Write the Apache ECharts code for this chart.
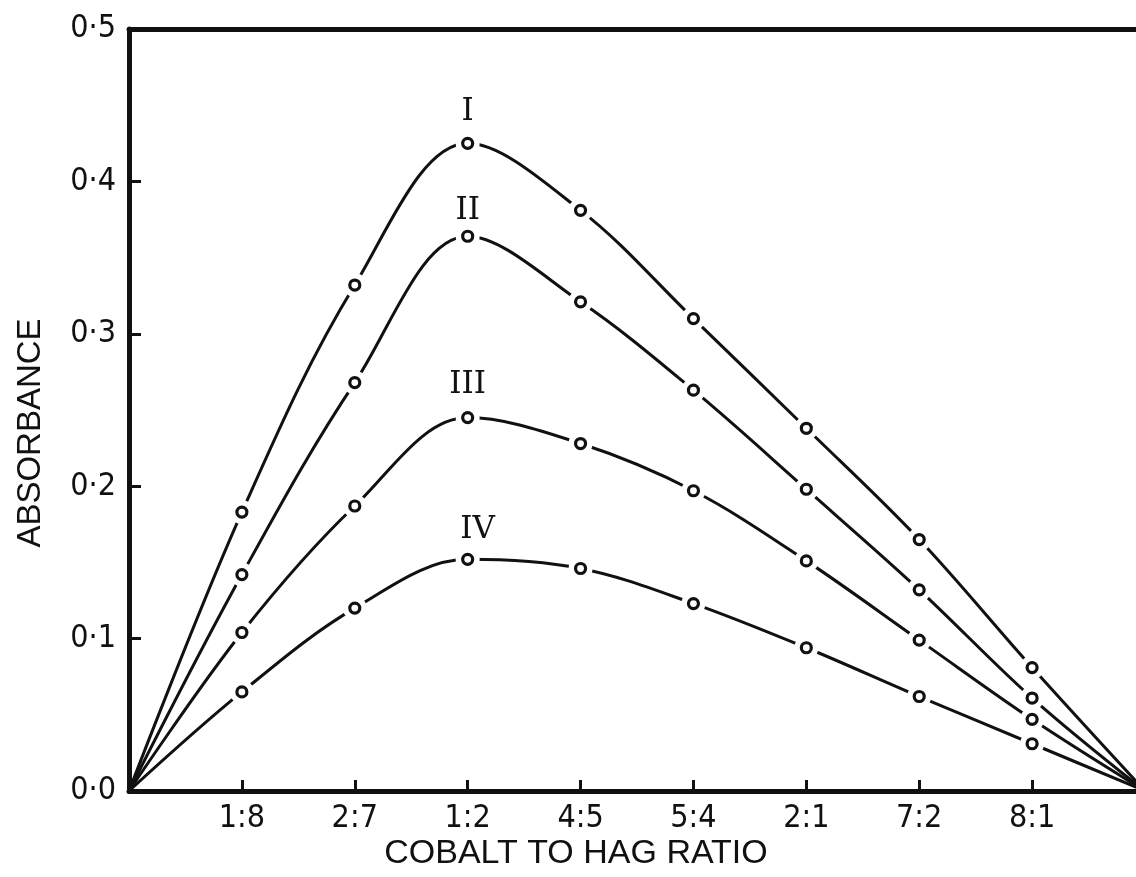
<!DOCTYPE html>
<html><head><meta charset="utf-8">
<script src="https://cdn.jsdelivr.net/npm/echarts@6/dist/echarts.min.js"></script>
<style>html,body{margin:0;padding:0;background:#fff}#c{width:1136px;height:877px}</style>
</head><body><div id="c"></div>
<script>
// ---- data ----
const ratioLabels = ['1:8', '2:7', '1:2', '4:5', '5:4', '2:1', '7:2', '8:1'];
const curveNames = ['I', 'II', 'III', 'IV'];
const absorbanceI   = [0.183, 0.332, 0.425, 0.381, 0.310, 0.238, 0.165, 0.081];
const absorbanceII  = [0.142, 0.268, 0.364, 0.321, 0.263, 0.198, 0.132, 0.061];
const absorbanceIII = [0.104, 0.187, 0.245, 0.228, 0.197, 0.151, 0.099, 0.047];
const absorbanceIV  = [0.065, 0.120, 0.152, 0.146, 0.123, 0.094, 0.062, 0.031];
const edgeAbsorbance = 0.0; // pure components at both ends
const yTickLabels = ['0·0', '0·1', '0·2', '0·3', '0·4', '0·5'];
const xAxisTitle = 'COBALT TO HAG RATIO';
const yAxisTitle = 'ABSORBANCE';
const labelledRatio = '1:2';

// ---- chart ----
const INK = '#111';
const curves = [absorbanceI, absorbanceII, absorbanceIII, absorbanceIV];
const lastX = ratioLabels.length + 1;
const peakIdx = ratioLabels.indexOf(labelledRatio);
const labelOffsets = [[0, -31], [0, -25], [0, -33], [10, -29]];
const tickFont = "'Liberation Sans Narrow', 'DejaVu Sans Condensed', 'Liberation Sans', sans-serif";

const series = [];
curves.forEach(vals => {
  series.push({
    type: 'line', smooth: 0.35, symbol: 'none', showSymbol: false, silent: true, z: 2,
    data: [[0, edgeAbsorbance]].concat(vals.map((v, i) => [i + 1, v]), [[lastX, edgeAbsorbance]]),
    lineStyle: { color: INK, width: 3 }
  });
});
// white halo discs that open a gap in the curve around every marker
series.push({
  type: 'scatter', silent: true, z: 5, symbol: 'circle', symbolSize: 24,
  data: [].concat(...curves.map(vals => vals.map((v, i) => [i + 1, v]))),
  itemStyle: { color: '#ffffff', borderWidth: 0, opacity: 1 },
  emphasis: { disabled: true }
});
curves.forEach((vals, k) => {
  series.push({
    type: 'scatter', silent: true, z: 8, symbol: 'circle', symbolSize: 10,
    data: vals.map((v, i) => ({
      value: [i + 1, v],
      label: i === peakIdx ? {
        show: true, formatter: curveNames[k], position: 'inside', offset: labelOffsets[k],
        fontFamily: "'DejaVu Serif', 'Liberation Serif', serif", fontSize: 31, color: INK
      } : { show: false }
    })),
    itemStyle: { color: '#ffffff', borderColor: INK, borderWidth: 3.2, opacity: 1 },
    emphasis: { disabled: true }
  });
});

const option = {
  animation: false,
  backgroundColor: '#fff',
  grid: { left: 129, right: -9, top: 29, bottom: 86, containLabel: false, outerBoundsMode: 'none' },
  xAxis: [{
    type: 'value', min: 0, max: lastX, interval: 1, position: 'bottom',
    axisLine: { show: true, onZero: false, lineStyle: { color: INK, width: 5 } },
    axisTick: { show: true, inside: true, length: 11, lineStyle: { color: INK, width: 3 } },
    axisLabel: {
      margin: 12, color: INK, fontFamily: tickFont, fontSize: 32,
      showMinLabel: true, showMaxLabel: true,
      formatter: v => (v >= 1 && v <= ratioLabels.length) ? ratioLabels[v - 1] : ''
    },
    splitLine: { show: false }
  }, {
    type: 'value', min: 0, max: lastX, position: 'top',
    axisLine: { show: true, onZero: false, lineStyle: { color: INK, width: 5 } },
    axisTick: { show: false }, axisLabel: { show: false }, splitLine: { show: false }
  }],
  yAxis: {
    type: 'value', min: 0, max: 0.5, interval: 0.1,
    axisLine: { show: true, onZero: false, lineStyle: { color: INK, width: 5 } },
    axisTick: { show: true, inside: true, length: 12, lineStyle: { color: INK, width: 3 } },
    axisLabel: {
      margin: 13, color: INK, fontFamily: tickFont, fontSize: 32,
      showMinLabel: true, showMaxLabel: true,
      formatter: v => yTickLabels[Math.round(v * 10)]
    },
    splitLine: { show: false }
  },
  graphic: [
    { type: 'text', x: 576, y: 854, silent: true,
      style: { text: xAxisTitle, fontFamily: "'Liberation Sans', sans-serif", fontSize: 34, fill: INK, align: 'center', verticalAlign: 'middle' } },
    { type: 'text', x: 31, y: 433, rotation: Math.PI / 2, silent: true,
      style: { text: yAxisTitle, fontFamily: "'Liberation Sans', sans-serif", fontSize: 33, fill: INK, align: 'center', verticalAlign: 'middle' } }
  ],
  series: series
};
const chart = echarts.init(document.getElementById('c'));
chart.setOption(option);
</script>
</body></html>
